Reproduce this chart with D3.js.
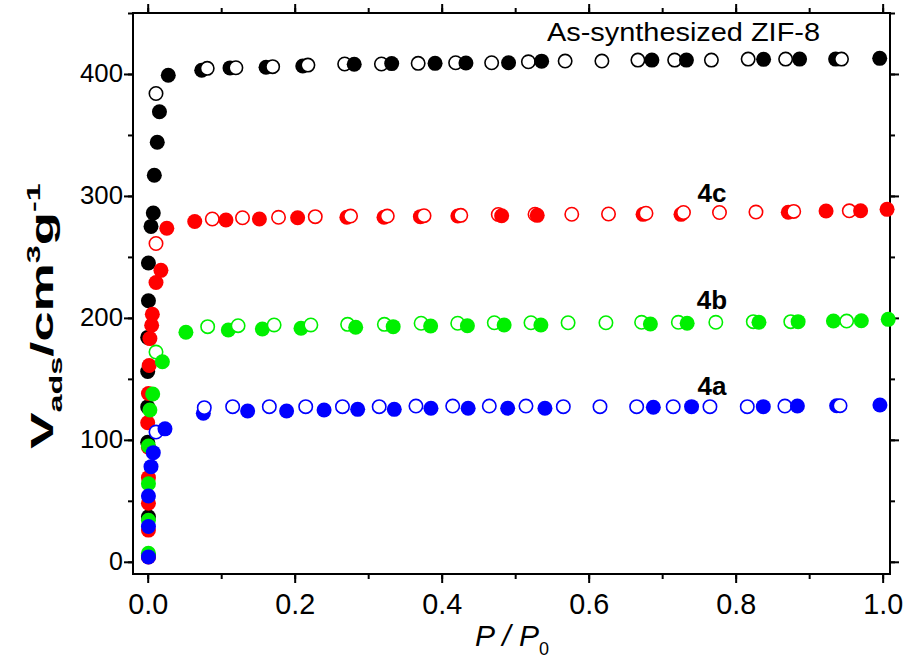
<!DOCTYPE html>
<html>
<head>
<meta charset="utf-8">
<script src="https://cdn.jsdelivr.net/npm/d3@7"></script>
<style>
	html, body { margin: 0; padding: 0; background: #fff; }
	svg { display: block; font-family: Arial, "Liberation Sans", sans-serif; }
</style>
</head>
<body>
<div id="chart"></div>
<script>
"use strict";

// isotherm points, [P/P0, Vads]
const zif8Ads = [[0.001,5],[0.001,37],[0,98],[0,127],[0,156],[0,184],[0.001,214],[0.001,245],[0.0045,275],[0.0076,286],[0.009,317],[0.013,344],[0.016,369],[0.028,399],
	[0.0735,403],[0.112,405],[0.161,405.5],[0.211,406.5],[0.281,408],[0.332,408.5],[0.391,408.7],[0.433,409],[0.491,409.2],[0.536,410.5],[0.686,411.4],[0.733,411.4],[0.838,412],[0.887,412.2],[0.936,412.2],[0.996,412.8]];
const zif8Des = [[0.0113,384],[0.081,404.6],[0.12,405.1],[0.17,406],[0.218,407.3],[0.268,408.2],[0.318,408.2],[0.368,408.7],[0.419,409.2],[0.468,409.2],[0.518,410],[0.568,410.6],[0.618,410.6],[0.667,411.4],[0.717,411.4],[0.767,411.4],[0.817,412.2],[0.868,412.2],[0.944,412.2]];

const s4cAds = [[0.001,4],[0.001,26],[0.001,48],[0.001,69],[0.001,94],[0,114],[0.001,138],[0.002,161],[0.003,183],[0.0054,194],[0.0063,203],[0.0113,229],[0.018,239],[0.026,273.5],
	[0.064,279],[0.1065,280.3],[0.152,281.1],[0.204,282.1],[0.271,282.5],[0.3215,282.5],[0.371,283],[0.422,283.5],[0.4816,283.8],[0.53,284.1],[0.674,284.9],[0.7256,284.9],[0.8716,286.6],[0.923,287.6],[0.97,287.9],[1.006,289]];
const s4cDes = [[0.0113,261],[0.0879,281.1],[0.129,282.1],[0.178,282.5],[0.228,283],[0.276,283.5],[0.326,283.5],[0.376,283.8],[0.426,284.1],[0.477,284.8],[0.527,285],[0.577,285],[0.627,285.2],[0.678,285.8],[0.729,286.4],[0.778,286.4],[0.8276,286.8],[0.879,287.3],[0.9546,287.8]];

const s4bAds = [[0.001,7],[0.001,34],[0.001,64],[0.001,95],[0.003,124.5],[0.0068,137.6],[0.02,164],[0.052,188.2],[0.1097,190.1],[0.156,190.9],[0.2086,191.5],[0.283,192.3],[0.334,192.8],[0.385,193.3],[0.435,193.6],[0.485,194.2],[0.535,194.2],[0.684,195],[0.734,195.6],[0.8317,196.4],[0.885,196.9],[0.933,197.4],[0.971,197.7],[1.0076,198.8]];
const s4bDes = [[0.0113,172],[0.0816,192.8],[0.123,193.6],[0.172,194.2],[0.222,194.2],[0.272,194.7],[0.322,194.7],[0.372,195.6],[0.4218,195.6],[0.4716,196],[0.5215,196],[0.572,196],[0.6235,196],[0.672,196.4],[0.722,196.4],[0.773,196.4],[0.824,196.9],[0.875,196.9],[0.951,197.4]];

const s4aAds = [[0.001,4],[0.001,29],[0.001,54],[0.0045,78],[0.0076,89.5],[0.0235,109],[0.0757,121.8],[0.136,123.6],[0.189,123.6],[0.24,124.5],[0.2857,125],[0.3355,125],[0.3854,125.9],[0.436,125.9],[0.4898,125.9],[0.5405,125.9],[0.688,126.7],[0.74,127.2],[0.8376,127.2],[0.884,127.7],[0.9374,128],[0.9963,128.6]];
const s4aDes = [[0.0113,106.4],[0.077,126.4],[0.1156,127.2],[0.1655,127.2],[0.215,127.2],[0.265,127.2],[0.315,127.2],[0.365,127.7],[0.415,127.7],[0.4648,127.7],[0.5147,127.7],[0.5655,127.2],[0.6154,127.2],[0.6653,127.2],[0.715,127.2],[0.765,127.2],[0.8158,127.2],[0.867,127.7],[0.942,128]];

const xTicks = [0, 0.2, 0.4, 0.6, 0.8, 1.0];
const yTicks = [0, 100, 200, 300, 400];

// label, colour, adsorption, desorption - drawn in this order
const series = [
	{ name: "As-synthesized ZIF-8", color: "#000000", ads: zif8Ads, des: zif8Des },
	{ name: "4c", color: "#ff0000", ads: s4cAds, des: s4cDes },
	{ name: "4b", color: "#00f000", ads: s4bAds, des: s4bDes },
	{ name: "4a", color: "#0000ff", ads: s4aAds, des: s4aDes }
];

const W = 909, H = 666;
const margin = { left: 133, top: 13, right: 19, bottom: 92 };
const w = W - margin.left - margin.right;
const h = H - margin.top - margin.bottom;

const x = d3.scaleLinear().domain([-0.02, 1.01]).range([0, w]);
const y = d3.scaleLinear().domain([-10, 450]).range([h, 0]);

const svg = d3.select("#chart").append("svg")
	.attr("width", W)
	.attr("height", H);

const g = svg.append("g").attr("transform", `translate(${margin.left},${margin.top})`);

// minor ticks every 0.1 / 50
const xMinor = d3.range(0, 1.01, 0.1);
const yMinor = d3.range(0, 451, 50);

const styleAxis = (sel) => {
	sel.select(".domain").remove();
	sel.selectAll("line").attr("stroke", "#000").attr("stroke-width", 2);
};

// bottom axis with labels
g.append("g").attr("transform", `translate(0,${h})`)
	.call(d3.axisBottom(x).tickValues(xMinor).tickSize(5).tickFormat(""))
	.call(styleAxis);
const xAx = g.append("g").attr("transform", `translate(0,${h})`)
	.call(d3.axisBottom(x).tickValues(xTicks).tickSize(9).tickPadding(10).tickFormat(d3.format(".1f")))
	.call(styleAxis);
xAx.selectAll("text")
	.attr("fill", "#000")
	.style("font-size", "30px")
	.attr("textLength", 40)
	.attr("lengthAdjust", "spacingAndGlyphs");

// left axis with labels
g.append("g")
	.call(d3.axisLeft(y).tickValues(yMinor).tickSize(5).tickFormat(""))
	.call(styleAxis);
const yAx = g.append("g")
	.call(d3.axisLeft(y).tickValues(yTicks).tickSize(9).tickPadding(1))
	.call(styleAxis);
yAx.selectAll("text")
	.attr("fill", "#000")
	.style("font-size", "25px")
	.attr("textLength", 43)
	.attr("lengthAdjust", "spacingAndGlyphs");
yAx.selectAll("text").filter((d) => d === 0).attr("textLength", null);

// top and right: ticks only
g.append("g").call(d3.axisTop(x).tickValues(xMinor).tickSize(5).tickFormat("")).call(styleAxis);
g.append("g").call(d3.axisTop(x).tickValues(xTicks).tickSize(9).tickFormat("")).call(styleAxis);
g.append("g").attr("transform", `translate(${w},0)`)
	.call(d3.axisRight(y).tickValues(yMinor).tickSize(5).tickFormat("")).call(styleAxis);
g.append("g").attr("transform", `translate(${w},0)`)
	.call(d3.axisRight(y).tickValues(yTicks).tickSize(9).tickFormat("")).call(styleAxis);

// frame
g.append("rect")
	.attr("width", w)
	.attr("height", h)
	.attr("fill", "none")
	.attr("stroke", "#000")
	.attr("stroke-width", 2);

// points: each series sorted by pressure so neighbours overlap the way they do in the picture
const r = 7.5;
series.forEach((s) => {
	const pts = s.ads.map((d) => ({ p: d[0], v: d[1], open: false }))
		.concat(s.des.map((d) => ({ p: d[0], v: d[1], open: true })))
		.sort((a, b) => a.p - b.p);
	g.append("g").selectAll("circle")
		.data(pts)
		.enter()
		.append("circle")
		.attr("cx", (d) => x(d.p))
		.attr("cy", (d) => y(d.v))
		.attr("r", (d) => d.open ? r - 0.8 : r)
		.attr("fill", (d) => d.open ? "#fff" : s.color)
		.attr("stroke", (d) => d.open ? s.color : "none")
		.attr("stroke-width", 1.6);
});

// series labels
svg.append("text")
	.attr("x", 547).attr("y", 41)
	.style("font-size", "25px")
	.attr("textLength", 273)
	.attr("lengthAdjust", "spacingAndGlyphs")
	.text("As-synthesized ZIF-8");
[["4c", 202], ["4b", 309], ["4a", 395]].forEach((l) => {
	svg.append("text")
		.attr("x", 712).attr("y", l[1])
		.attr("text-anchor", "middle")
		.style("font-size", "26px")
		.style("font-weight", "bold")
		.text(l[0]);
});

// x title: P / P0
const xt = svg.append("text")
	.attr("x", 512).attr("y", 646)
	.attr("text-anchor", "middle")
	.style("font-size", "30px")
	.style("font-style", "italic");
xt.append("tspan").text("P / P");
xt.append("tspan").attr("dy", 9).style("font-size", "18px").style("font-style", "normal").text("0");

// y title: Vads/cm3g-1, stretched along its length like the original
const yt = svg.append("text")
	.attr("transform", "translate(53,316) rotate(-90) scale(1.7,1)")
	.attr("text-anchor", "middle")
	.style("font-size", "32px")
	.style("font-weight", "bold");
yt.append("tspan").text("V");
yt.append("tspan").attr("dy", 9).style("font-size", "19px").text("ads");
yt.append("tspan").attr("dy", -9).text("/cm");
yt.append("tspan").attr("dy", -13).style("font-size", "19px").text("3");
yt.append("tspan").attr("dy", 13).text("g");
yt.append("tspan").attr("dy", -13).style("font-size", "19px").text("-1");
</script>
</body>
</html>
